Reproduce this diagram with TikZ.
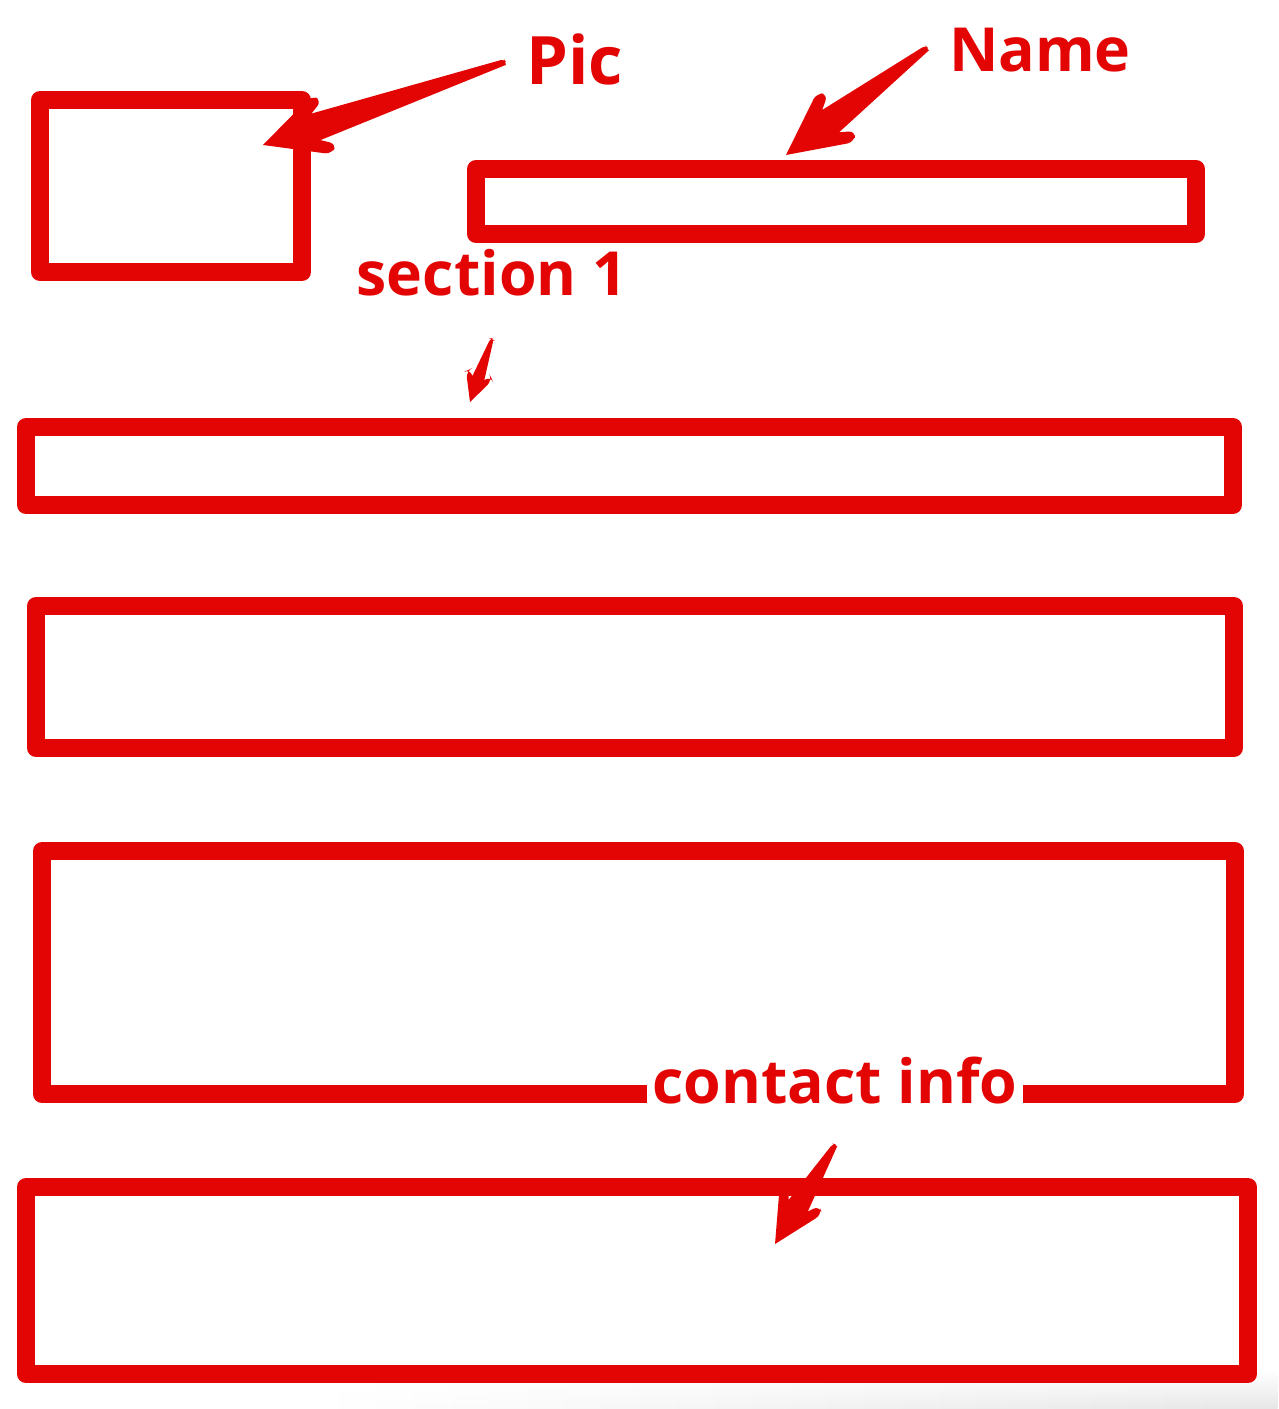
\documentclass[tikz,border=0pt]{standalone}
\usepackage{fontspec}
\setmainfont{Open Sans}
\usepackage{tikz}
\usetikzlibrary{calc,fadings}
\definecolor{skred}{RGB}{227,4,4}

% tapered annotation arrow: tail, tip, head size
\newcommand{\skitcharrow}[3]{%
  \pgfmathanglebetweenpoints{\pgfpointanchor{#2}{center}}{\pgfpointanchor{#1}{center}}%
  \let\skang\pgfmathresult
  \pgfpointdiff{\pgfpointanchor{#2}{center}}{\pgfpointanchor{#1}{center}}%
  \pgfgetlastxy{\skdx}{\skdy}%
  \pgfmathsetmacro\skL{veclen(\skdx,\skdy)/28.4528}%
  \begin{scope}[shift={(#2)}, rotate=\skang]
    \fill[skred] (0,0)
      [rounded corners=2pt] -- ({0.62*#3},{-0.31*#3}) -- ({0.70*#3},{-0.23*#3})
      [sharp corners] -- ({0.56*#3},{-0.14*#3}) -- (\skL,{-0.025*#3-0.005})
      [rounded corners=1pt] -- ({\skL+0.01},0) -- (\skL,{0.025*#3+0.005})
      [sharp corners] -- ({0.56*#3},{0.14*#3})
      [rounded corners=2pt] -- ({0.70*#3},{0.23*#3}) -- ({0.62*#3},{0.31*#3})
      [sharp corners] -- cycle;
  \end{scope}}

\begin{document}
\begin{tikzpicture}[line join=round,
    box/.style={draw=skred, line width=5.1pt},
    callout/.style={text=skred, anchor=base, inner sep=0pt,
      font=\fontsize{17.3}{20}\selectfont\bfseries}]
  \useasboundingbox (0,0) rectangle (12.78,-14.09);
  % Page shadow
  \shade[left color=white, right color=black!10, path fading=north]
    (3.2,-13.70) rectangle (12.78,-14.09);
  % Boxes
  \draw[box] (0.40,-1.00) rectangle (3.02,-2.72);    % picture
  \draw[box] (4.76,-1.69) rectangle (11.96,-2.34);   % name
  \draw[box] (0.26,-4.27) rectangle (12.33,-5.05);   % section 1
  \draw[box] (0.36,-6.06) rectangle (12.34,-7.48);
  \draw[box] (0.42,-8.51) rectangle (12.35,-10.94);
  \draw[box] (0.26,-11.87) rectangle (12.48,-13.74); % contact
  % Labels
  \node[callout, font=\fontsize{19}{22}\selectfont\bfseries] (pic) at (5.75,-0.85) {Pic};
  \node[callout] (name)    at (10.40,-0.72) {Name};
  \node[callout] (section) at (4.92,-2.95)  {section 1};
  \node[callout, fill=white, inner sep=1.5pt] (contact) at (8.35,-11.03) {contact info};
  % Arrow ends
  \coordinate (picTail)     at (5.05,-0.62);
  \coordinate (picTip)      at (2.63,-1.45);
  \coordinate (nameTail)    at (9.27,-0.48);
  \coordinate (nameTip)     at (7.86,-1.55);
  \coordinate (sectionTail) at (4.92,-3.39);
  \coordinate (sectionTip)  at (4.70,-4.02);
  \coordinate (contactTail) at (8.35,-11.45);
  \coordinate (contactTip)  at (7.75,-12.44);
  % Arrows
  \skitcharrow{picTail}{picTip}{1}
  \skitcharrow{nameTail}{nameTip}{1}
  \skitcharrow{sectionTail}{sectionTip}{0.45}
  \skitcharrow{contactTail}{contactTip}{0.8}
\end{tikzpicture}
\end{document}
